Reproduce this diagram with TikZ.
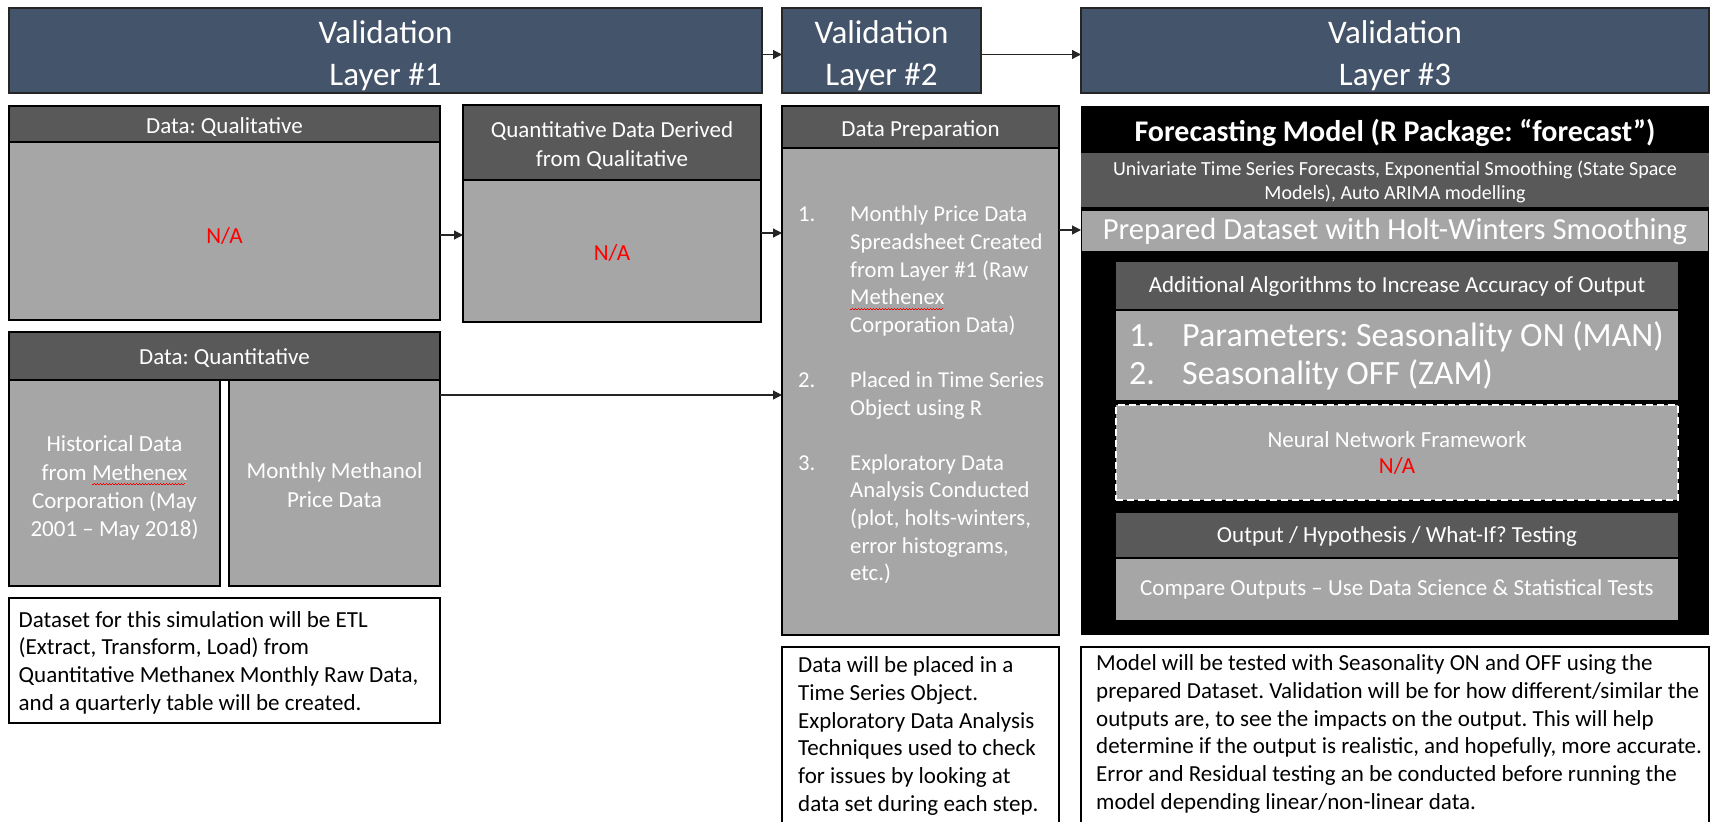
\documentclass[tikz,border=0pt]{standalone}
\usepackage{fontspec}
\setmainfont{Carlito}
\usetikzlibrary{arrows.meta,calc}
\frenchspacing

\definecolor{navy}{HTML}{44546A}
\definecolor{darkbox}{HTML}{595959}
\definecolor{lightbox}{HTML}{A6A6A6}
\definecolor{nared}{HTML}{FF0000}

% red zig-zag underline used for flagged words
\newsavebox\spellbox
\newcommand\spellword[1]{\sbox\spellbox{#1}%
  \rlap{\textcolor{nared}{\leaders\hbox to 3pt{\rule[-4.6pt]{1.5pt}{0.8pt}\rule[-3.8pt]{1.5pt}{0.8pt}}\hskip\wd\spellbox}}%
  \usebox\spellbox}
\newcommand\fs[2]{\fontsize{#1}{#2}\selectfont}
\newcommand\itemno[1]{\makebox[52pt][l]{#1}}
\newcommand\itemgap{\hspace*{52pt}}

% box with its label set a little below the centre
% #1 style, #2 name, #3 x, #4 y, #5 width, #6 height, #7 text, #8 drop
\newcommand\boxnode[8]{%
  \node[#1, minimum width=#5pt, minimum height=#6pt] (#2) at (#3,#4) {};
  \node[#1, draw=none, fill=none, minimum width=0pt, minimum height=0pt,
        anchor=center, yshift=-#8pt] (#2-t) at (#2.center) {#7};}

\tikzset{
  box/.style={rectangle, inner sep=0pt, outer sep=0pt, anchor=north west,
              align=center, text=white},
  layerhead/.style={box, fill=navy, draw=black!85, line width=1.2pt, font=\fs{33}{41.5}},
  darkhead/.style={box, fill=darkbox, draw=black, line width=1.3pt, font=\fs{23}{28.2}},
  lightbody/.style={box, fill=lightbox, draw=black, line width=1.3pt, font=\fs{23}{28.2}},
  notebox/.style={box, fill=white, draw=black, line width=1.3pt},
  notetext/.style={inner sep=0pt, anchor=north west, align=left, text=black,
                   font=\fs{23}{27.7}},
  innerdark/.style={box, fill=darkbox, font=\fs{23}{26}},
  innerlight/.style={box, fill=lightbox, font=\fs{23}{26}},
  flow/.style={line width=1.2pt, draw=black!85, -{Triangle[length=9pt,width=9pt]}},
}

\begin{document}
\begin{tikzpicture}[x=1pt,y=-1pt]
\useasboundingbox (0,0) rectangle (1711,822);

% layer headers
\boxnode{layerhead}{h1}{9}{8}{753}{85}{Validation\\Layer \#1}{5}
\boxnode{layerhead}{h2}{782}{8}{199}{85}{Validation\\Layer \#2}{5}
\boxnode{layerhead}{h3}{1081}{8}{628}{85}{Validation\\Layer \#3}{5}
\draw[flow] ($(h1.east)+(0,4)$) -- ($(h2.west)+(0,4)$);
\draw[flow] ($(h2.east)+(0,4)$) -- ($(h3.west)+(0,4)$);

% layer 1: qualitative data
\boxnode{darkhead}{qualH}{9}{106}{431}{36}{Data: Qualitative}{3}
\boxnode{lightbody, text=nared}{qualB}{9}{142}{431}{178}{N/A}{5}
\boxnode{darkhead}{derH}{463}{105}{298}{75}{Quantitative Data Derived\\from Qualitative}{3}
\boxnode{lightbody, text=nared}{derB}{463}{180}{298}{142}{N/A}{2}

% layer 1: quantitative data
\boxnode{darkhead}{quantH}{9}{332}{431}{48}{Data: Quantitative}{2}
\boxnode{lightbody}{histB}{9}{380}{211}{206}
  {Historical Data\\from \spellword{Methenex}\\Corporation (May\\2001 – May 2018)}{5}
\boxnode{lightbody}{monB}{229}{380}{211}{206}{Monthly Methanol\\Price Data}{2}

\node[notebox, minimum width=431pt, minimum height=125pt] (note1) at (9,598) {};
\node[notetext] (note1t) at (18.5,611)
  {Dataset for this simulation will be ETL\\(Extract, Transform, Load) from\\Quantitative Methanex Monthly Raw Data,\\and a quarterly table will be created.};

% layer 2: data preparation
\boxnode{darkhead}{dpH}{782}{106}{277}{42}{Data Preparation}{3}
\node[lightbody, minimum width=277pt, minimum height=487pt] (dpB) at (782,148) {};
\node[inner sep=0pt, anchor=west, align=left, text=white, font=\fs{22.7}{27.6}] (dpList) at (798,395)
  {\itemno{1.}Monthly Price Data\\
   \itemgap Spreadsheet Created\\
   \itemgap from Layer \#1 (Raw\\
   \itemgap \spellword{Methenex}\\
   \itemgap Corporation Data)\\[27.6pt]
   \itemno{2.}Placed in Time Series\\
   \itemgap Object using R\\[27.6pt]
   \itemno{3.}Exploratory Data\\
   \itemgap Analysis Conducted\\
   \itemgap (plot, holts-winters,\\
   \itemgap error histograms,\\
   \itemgap etc.)};

\node[notebox, minimum width=277pt, minimum height=200pt] (note2) at (782,647) {};
\node[notetext] (note2t) at (798,656.5)
  {Data will be placed in a\\Time Series Object.\\Exploratory Data Analysis\\Techniques used to check\\for issues by looking at\\data set during each step.};

% layer 3: forecasting model
\node[box, fill=black, minimum width=628pt, minimum height=529pt] (fcB) at (1081,106) {};
\boxnode{box, font=\bfseries\fs{30}{34}}{fcT}{1081}{106}{628}{47}
  {Forecasting Model (R Package: “forecast”)}{3}
\boxnode{box, fill=darkbox, font=\fs{20}{24}}{univ}{1081}{153}{628}{54}
  {Univariate Time Series Forecasts, Exponential Smoothing (State Space\\Models), Auto ARIMA modelling}{2}
\boxnode{box, fill=lightbox, font=\fs{30.6}{34}}{prep}{1082}{211}{626}{40}
  {Prepared Dataset with Holt-Winters Smoothing}{1}

\boxnode{innerdark}{addH}{1116}{262}{562}{47}{Additional Algorithms to Increase Accuracy of Output}{1}
\node[innerlight, minimum width=562pt, minimum height=89pt] (addB) at (1116,311) {};
\node[inner sep=0pt, anchor=west, align=left, text=white, font=\fs{34}{38}] (addList) at (1129,356)
  {\makebox[53pt][l]{1.}Parameters: Seasonality ON (MAN)\\
   \makebox[53pt][l]{2.}Seasonality OFF (ZAM)};

\boxnode{innerlight, draw=white, dash pattern=on 7pt off 4pt, line width=1.2pt}{nnB}{1116}{405}{562}{95}
  {Neural Network Framework\\\textcolor{nared}{N/A}}{0}

\boxnode{innerdark}{outH}{1116}{513}{562}{44}{Output / Hypothesis / What-If? Testing}{1}
\boxnode{innerlight}{cmpB}{1116}{559}{562}{61}{Compare Outputs – Use Data Science \& Statistical Tests}{0}

\node[notebox, minimum width=628pt, minimum height=200pt] (note3) at (1081,647) {};
\node[notetext] (note3t) at (1096,654.5)
  {Model will be tested with Seasonality ON and OFF using the\\
   prepared Dataset. Validation will be for how different/similar the\\
   outputs are, to see the impacts on the output. This will help\\
   determine if the output is realistic, and hopefully, more accurate.\\
   Error and Residual testing an be conducted before running the\\
   model depending linear/non-linear data.};

% connectors between stages
\draw[flow] ($(qualB.east)+(0,4)$) -- ($(derB.west |- qualB.east)+(0,4)$);
\draw[flow] ($(derB.east |- qualB.east)+(0,2)$) -- ($(dpB.west |- qualB.east)+(0,2)$);
\draw[flow] ($(monB.north east)+(0,15)$) -- ($(dpB.west |- monB.north east)+(0,15)$);
\draw[flow] ($(dpB.north east)+(0,82)$) -- ($(fcB.west |- dpB.north east)+(0,82)$);
\end{tikzpicture}
\end{document}
